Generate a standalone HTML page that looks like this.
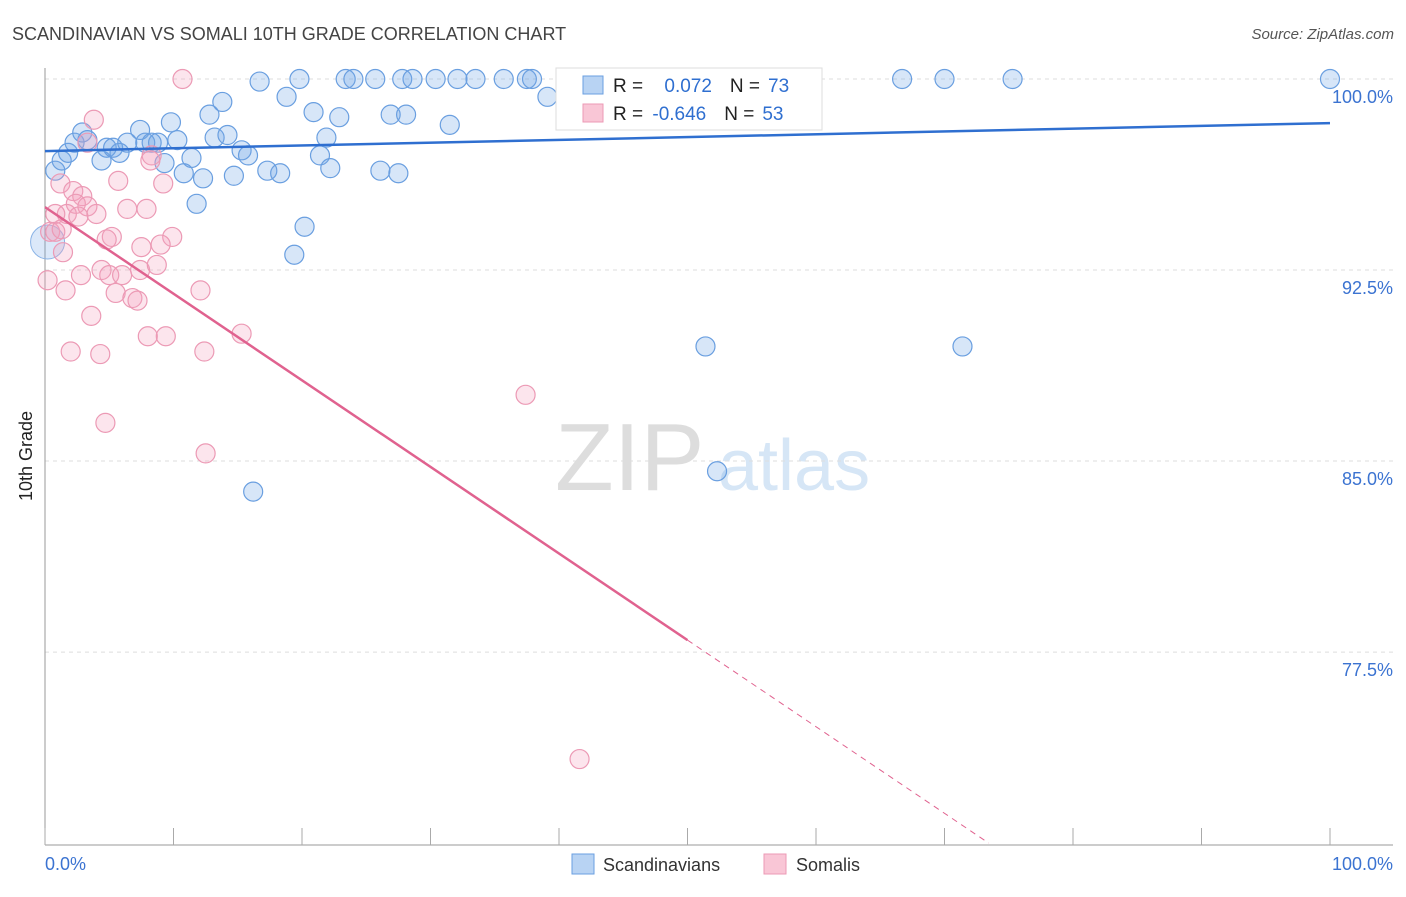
<!DOCTYPE html>
<html><head><meta charset="utf-8"><style>
body{margin:0;background:#fff;font-family:"Liberation Sans",sans-serif}
svg text{font-family:"Liberation Sans",sans-serif}
</style></head><body>
<svg id="chart" width="1406" height="892" xmlns="http://www.w3.org/2000/svg">
<text x="12" y="40" font-size="18" fill="#444">SCANDINAVIAN VS SOMALI 10TH GRADE CORRELATION CHART</text>
<text x="1394" y="39" font-size="15" fill="#555" text-anchor="end" font-style="italic">Source: ZipAtlas.com</text>
<text x="32" y="456" font-size="18" fill="#222" text-anchor="middle" transform="rotate(-90 32 456)">10th Grade</text>
<text x="555" y="490" font-size="96" fill="#ddd" font-family="Liberation Serif">ZIP</text>
<text x="718" y="490" font-size="72" fill="#d6e6f6">atlas</text>
<g id="grid"></g><g id="marks"></g>
<g>
<rect x="556" y="68" width="266" height="62" fill="#fff" stroke="#ddd"/>
<rect x="583" y="76" width="20" height="18" fill="#b8d3f3" stroke="#6a9fe0"/>
<rect x="583" y="104" width="20" height="18" fill="#f9c6d6" stroke="#ec9ab5"/>
<text x="613" y="92" font-size="19" fill="#222">R = <tspan fill="#2f6fd0" dx="16">0.072</tspan><tspan fill="#222" dx="18">N =</tspan><tspan fill="#2f6fd0" dx="8">73</tspan></text>
<text x="613" y="120" font-size="19" fill="#222">R = <tspan fill="#2f6fd0" dx="4">-0.646</tspan><tspan fill="#222" dx="18">N =</tspan><tspan fill="#2f6fd0" dx="8">53</tspan></text>
</g>
<g>
<rect x="572" y="854" width="22" height="20" fill="#b8d3f3" stroke="#6a9fe0"/>
<text x="603" y="871" font-size="18" fill="#333">Scandinavians</text>
<rect x="764" y="854" width="22" height="20" fill="#f9c6d6" stroke="#ec9ab5"/>
<text x="796" y="871" font-size="18" fill="#333">Somalis</text>
</g>
</svg>
<script>
const yTicks=[100,92.5,85,77.5];
const yTickLabels=["100.0%","92.5%","85.0%","77.5%"];
const blueX=[0.8,1.3,1.8,2.3,2.9,3.3,4.4,4.8,5.3,5.8,6.4,7.4,7.8,8.3,8.8,9.3,9.8,10.3,10.8,11.4,11.8,12.3,12.8,13.2,13.8,14.2,14.7,15.3,15.8,16.2,16.7,17.3,18.3,18.8,19.4,19.8,20.2,20.9,21.4,21.9,22.2,22.9,23.4,24.0,25.7,26.1,26.9,27.5,27.8,28.1,28.6,30.4,31.5,32.1,33.5,35.7,37.5,37.9,39.1,42.0,43.2,47.1,48.6,51.4,52.3,66.7,70.0,71.4,75.3,100];
const blueY=[96.4,96.8,97.1,97.5,97.9,97.6,96.8,97.3,97.3,97.1,97.5,98.0,97.5,97.5,97.5,96.7,98.3,97.6,96.3,96.9,95.1,96.1,98.6,97.7,99.1,97.8,96.2,97.2,97.0,83.8,99.9,96.4,96.3,99.3,93.1,100,94.2,98.7,97.0,97.7,96.5,98.5,100,100,100,96.4,98.6,96.3,100,98.6,100,100,98.2,100,100,100,100,100,99.3,100,100,100,100,89.5,84.6,100,100,89.5,100,100];
const pinkX=[10.7,3.8,3.3,8.3,8.2,9.2,5.7,1.2,2.2,2.9,2.4,3.3,1.7,4.0,6.4,7.9,0.8,2.6,0.4,0.8,1.3,5.2,4.8,9.9,7.5,9.0,1.4,0.2,1.6,2.8,4.4,5.0,6.0,7.4,8.7,5.5,6.8,7.2,12.1,3.6,8.0,9.4,15.3,2.0,4.3,12.4,37.4,4.7,12.5,41.6];
const pinkY=[100,98.4,97.5,97.0,96.8,95.9,96.0,95.9,95.6,95.4,95.1,95.0,94.7,94.7,94.9,94.9,94.7,94.6,94.0,94.0,94.1,93.8,93.7,93.8,93.4,93.5,93.2,92.1,91.7,92.3,92.5,92.3,92.3,92.5,92.7,91.6,91.4,91.3,91.7,90.7,89.9,89.9,90.0,89.3,89.2,89.3,87.6,86.5,85.3,73.3];
const blueTrend=[97.17,98.27];
const pinkTrend=[94.97,-0.34];
const NS="http://www.w3.org/2000/svg";
const X=v=>45+v*12.85, Y=v=>79+(100-v)*25.47;
function mk(p,t,a){const e=document.createElementNS(NS,t);for(const k in a)e.setAttribute(k,a[k]);p.appendChild(e);return e;}
const g=document.getElementById('grid'),m=document.getElementById('marks');
yTicks.forEach((t,i)=>{const l=mk(g,'line',{x1:45,x2:1393,y1:Y(t),y2:Y(t),stroke:'#ddd','stroke-dasharray':'4,4'});

const tx=mk(g,'text',{x:1393,y:Y(t)+24,'font-size':18,fill:'#3b73d1','text-anchor':'end'});tx.textContent=yTickLabels[i];
});
const ax=mk(g,'line',{x1:45,x2:45,y1:68,y2:845,stroke:'#999'});
const bx=mk(g,'line',{x1:45,x2:1393,y1:845,y2:845,stroke:'#999'});
for(let i=0;i<=10;i++){const t=mk(g,'line',{x1:X(i*10),x2:X(i*10),y1:828,y2:845,stroke:'#aaa'});}
const xl0=mk(g,'text',{x:45,y:870,'font-size':18,fill:'#3b73d1'});xl0.textContent='0.0%';
const xl1=mk(g,'text',{x:1393,y:870,'font-size':18,fill:'#3b73d1','text-anchor':'end'});xl1.textContent='100.0%';
const big=mk(m,'circle',{cx:X(0.2),cy:Y(93.6),r:17,fill:'rgba(110,165,230,0.25)',stroke:'#8ab3e6'});
blueX.forEach((v,i)=>{const c=mk(m,'circle',{cx:X(v),cy:Y(blueY[i]),r:9.5,fill:'rgba(110,165,230,0.28)',stroke:'#6a9fe0','stroke-width':1.2});
});
pinkX.forEach((v,i)=>{const c=mk(m,'circle',{cx:X(v),cy:Y(pinkY[i]),r:9.5,fill:'rgba(245,160,190,0.28)',stroke:'#ec9ab5','stroke-width':1.2});
});
const bl=mk(m,'line',{x1:X(0),y1:Y(blueTrend[0]),x2:X(100),y2:Y(blueTrend[1]),stroke:'#2f6fd0','stroke-width':2.5});

const pe=(70-pinkTrend[0])/pinkTrend[1];
const pl=mk(m,'line',{x1:X(0),y1:Y(pinkTrend[0]),x2:X(50),y2:Y(pinkTrend[0]+50*pinkTrend[1]),stroke:'#e0628f','stroke-width':2.5});

const pd=mk(m,'line',{x1:X(50),y1:Y(pinkTrend[0]+50*pinkTrend[1]),x2:X(pe),y2:Y(70),stroke:'#e0628f','stroke-width':1,'stroke-dasharray':'6,5'});

</script>
</body></html>
